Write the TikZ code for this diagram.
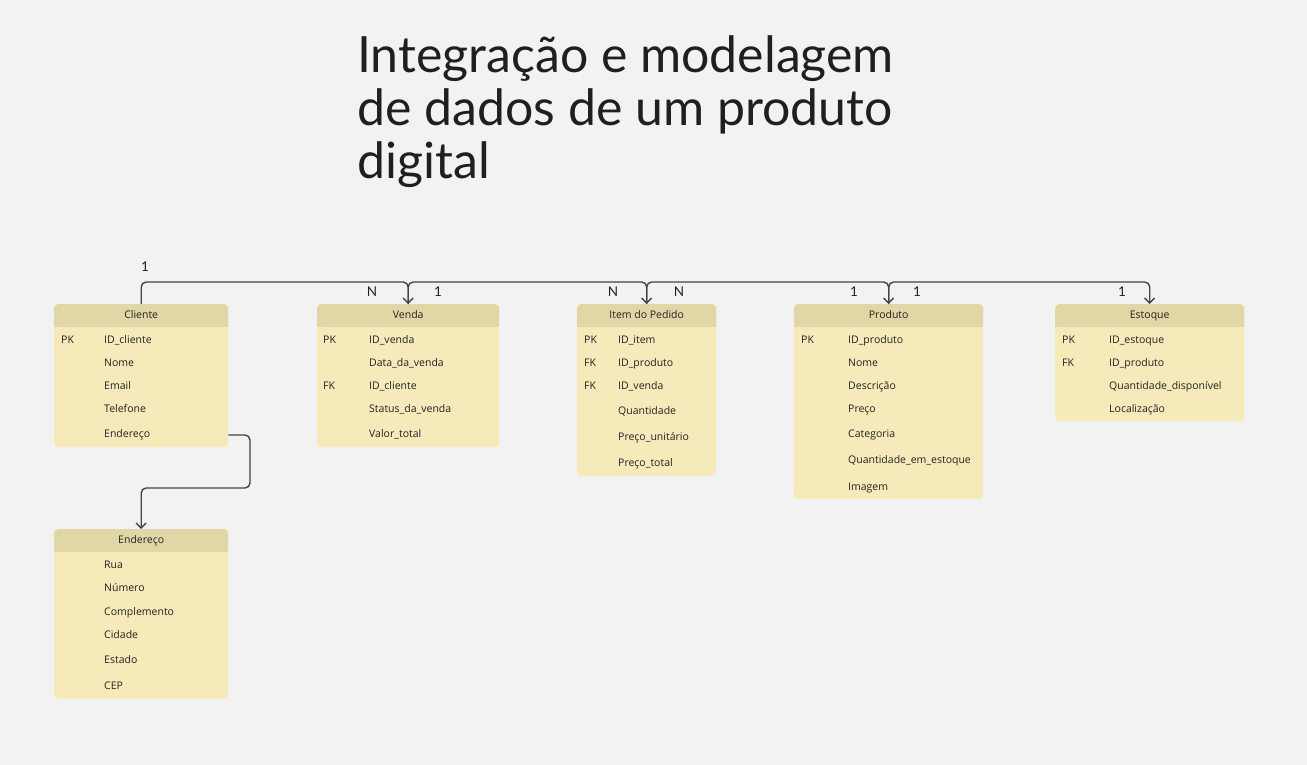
\documentclass[tikz,border=0pt]{standalone}
\usepackage{fontspec}
\setmainfont{Lato}
\newfontfamily\tabfont{Open Sans}
\usetikzlibrary{arrows.meta}
\definecolor{bgcol}{HTML}{F2F2F2}
\definecolor{headcol}{HTML}{E1D7A6}
\definecolor{bodycol}{HTML}{F6EABA}
\definecolor{linecol}{HTML}{444444}
\definecolor{txtcol}{HTML}{222222}
\tikzset{
  tabbody/.style={fill=bodycol, rounded corners=4pt, inner sep=0pt, anchor=north west},
  tabhead/.style={fill=headcol, rounded corners=4pt, inner sep=0pt, minimum height=23pt,
    text height=7.6pt, text depth=2.4pt,
    anchor=north, text=txtcol, font=\tabfont\fontsize{10.5}{12}\selectfont},
  field/.style={anchor=west, inner sep=0pt, yshift=-1pt, text height=7.6pt, text depth=2.4pt,
    text=txtcol, font=\tabfont\fontsize{10.5}{12}\selectfont},
  conn/.style={draw=linecol, line width=1.4pt, rounded corners=5pt,
    -{Straight Barb[length=5pt,width=10pt]}},
  card/.style={inner sep=0pt, text=txtcol, font=\fontsize{13.5}{15}\selectfont},
}
\begin{document}
\begin{tikzpicture}[x=1pt,y=-1pt]
  \fill[bgcol] (0,0) rectangle (1307,765);
  \useasboundingbox (0,0) rectangle (1307,765);

  \node[anchor=north west, inner sep=0pt, align=left, text=black!88,
    font=\fontsize{50}{53}\selectfont] (title) at (357,35)
    {Integração e modelagem\\de dados de um produto\\digital};

  % Cliente
  \node[tabbody, minimum width=174, minimum height=143] (cliT) at (54,304) {};
  \fill[headcol] ([yshift=-12pt]cliT.north west) rectangle ([yshift=-23pt]cliT.north east);
  \node[tabhead, minimum width=174] (cli) at (cliT.north) {Cliente};
  \node[field] (cliK) at (61,340) {PK};
  \foreach \y/\t in {340/ID\_cliente, 363/Nome, 386/Email, 409/Telefone}
    \node[field] (cli-\y) at (104,\y) {\t};
  \node[field] (cliEnd) at (104,434) {Endereço};

  % Venda
  \node[tabbody, minimum width=182, minimum height=143] (venT) at (317,304) {};
  \fill[headcol] ([yshift=-12pt]venT.north west) rectangle ([yshift=-23pt]venT.north east);
  \node[tabhead, minimum width=182] (ven) at (venT.north) {Venda};
  \node[field] (venK1) at (323,340) {PK};
  \node[field] (venK2) at (323,386) {FK};
  \foreach \y/\t in {340/ID\_venda, 363/Data\_da\_venda, 386/ID\_cliente,
      409/Status\_da\_venda, 434/Valor\_total}
    \node[field] (ven-\y) at (369,\y) {\t};

  % Item do Pedido
  \node[tabbody, minimum width=139, minimum height=172] (iteT) at (577,304) {};
  \fill[headcol] ([yshift=-12pt]iteT.north west) rectangle ([yshift=-23pt]iteT.north east);
  \node[tabhead, minimum width=139] (ite) at (iteT.north) {Item do Pedido};
  \node[field] (iteK1) at (584,340) {PK};
  \node[field] (iteK2) at (584,363) {FK};
  \node[field] (iteK3) at (584,386) {FK};
  \foreach \y/\t in {340/ID\_item, 363/ID\_produto, 386/ID\_venda,
      411/Quantidade, 437/Preço\_unitário, 463/Preço\_total}
    \node[field] (ite-\y) at (618,\y) {\t};

  % Produto
  \node[tabbody, minimum width=189, minimum height=195] (proT) at (794,304) {};
  \fill[headcol] ([yshift=-12pt]proT.north west) rectangle ([yshift=-23pt]proT.north east);
  \node[tabhead, minimum width=189] (pro) at (proT.north) {Produto};
  \node[field] (proK) at (801,340) {PK};
  \foreach \y/\t in {340/ID\_produto, 363/Nome, 386/Descrição, 409/Preço,
      434/Categoria, 460/Quantidade\_em\_estoque, 487/Imagem}
    \node[field] (pro-\y) at (848,\y) {\t};

  % Estoque
  \node[tabbody, minimum width=189, minimum height=117] (estT) at (1055,304) {};
  \fill[headcol] ([yshift=-12pt]estT.north west) rectangle ([yshift=-23pt]estT.north east);
  \node[tabhead, minimum width=189] (est) at (estT.north) {Estoque};
  \node[field] (estK1) at (1062,340) {PK};
  \node[field] (estK2) at (1062,363) {FK};
  \foreach \y/\t in {340/ID\_estoque, 363/ID\_produto,
      386/Quantidade\_disponível, 409/Localização}
    \node[field] (est-\y) at (1109,\y) {\t};

  % Endereço
  \node[tabbody, minimum width=174, minimum height=170] (endT) at (54,529) {};
  \fill[headcol] ([yshift=-12pt]endT.north west) rectangle ([yshift=-23pt]endT.north east);
  \node[tabhead, minimum width=174] (end) at (endT.north) {Endereço};
  \foreach \y/\t in {565/Rua, 588/Número, 612/Complemento, 635/Cidade,
      660/Estado, 686/CEP}
    \node[field] (end-\y) at (104,\y) {\t};

  % connectors
  \draw[conn] (cli.north) -- ++(0,-22) -| (ven.north);
  \draw[conn] (ven.north) -- ++(0,-22) -| (ite.north);
  \draw[conn] (ite.north) -- ++(0,-22) -| (pro.north);
  \draw[conn] (pro.north) -- ++(0,-22) -| (est.north);
  \coordinate (bend) at (250,488);
  \draw[conn] (cliEnd -| cliT.east) -| (bend) -| (end.north);

  % cardinalities
  \node[card] (c1) at (145,267) {1};
  \node[card] (c2) at (372,292) {N};
  \node[card] (c3) at (438,292) {1};
  \node[card] (c4) at (613,292) {N};
  \node[card] (c5) at (679,292) {N};
  \node[card] (c6) at (854,292) {1};
  \node[card] (c7) at (917,292) {1};
  \node[card] (c8) at (1122,292) {1};
\end{tikzpicture}
\end{document}
